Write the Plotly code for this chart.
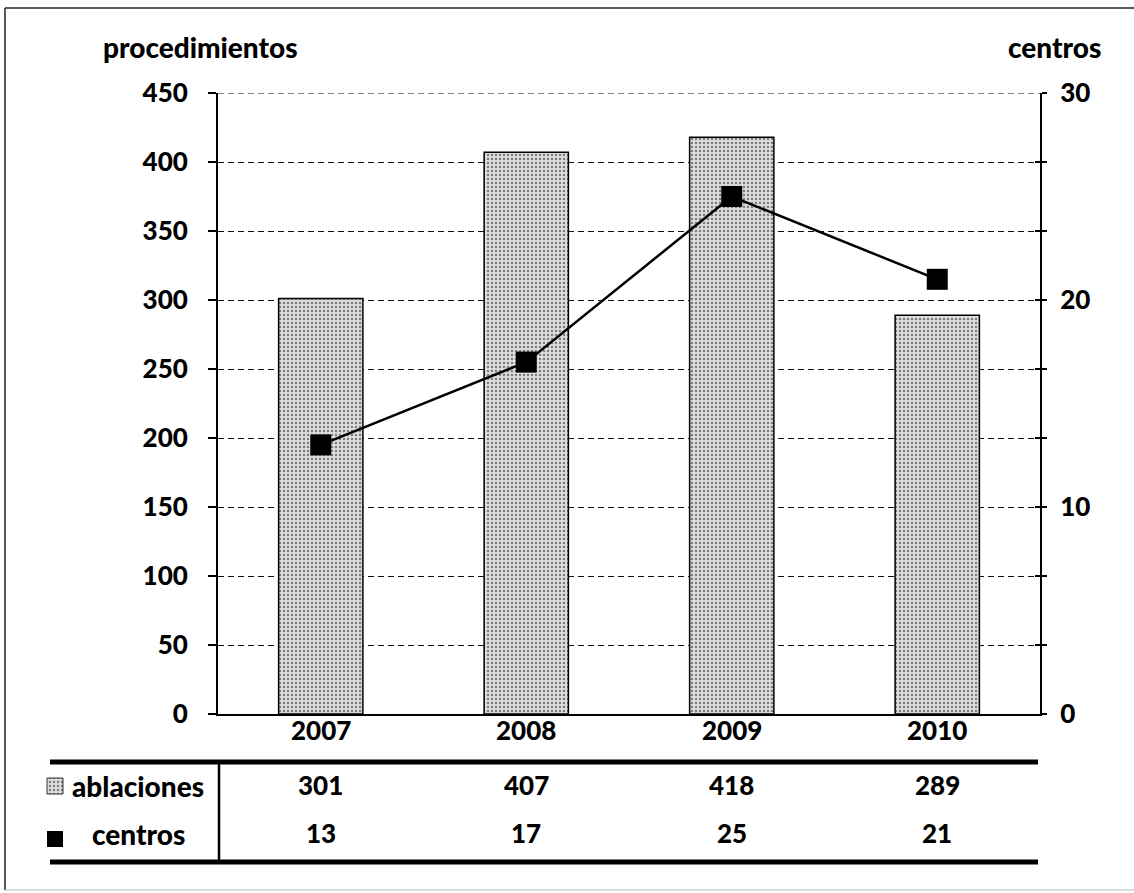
import plotly.graph_objects as go

years = ["2007", "2008", "2009", "2010"]
ablaciones = [301, 407, 418, 289]
centros = [13, 17, 25, 21]
left_ticks = [0, 50, 100, 150, 200, 250, 300, 350, 400, 450]
right_labels = ["0", "", "", "10", "", "", "20", "", "", "30"]

W, H = 1134, 893
FONT = "Lato"
WEIGHT = 900


def px(x):
    return x / W


def py(y):
    return 1 - y / H


pattern = dict(shape=".", fgcolor="#1a1a1a", bgcolor="#dedede", size=4, solidity=0.3)

fig = go.Figure()

fig.add_trace(go.Bar(
    x=years, y=ablaciones, width=0.41,
    marker=dict(color="#dedede", pattern=pattern, line=dict(color="black", width=1.5)),
    showlegend=False, xaxis="x", yaxis="y"))

fig.add_trace(go.Scatter(
    x=years, y=centros, mode="lines+markers",
    line=dict(color="black", width=2.5),
    marker=dict(symbol="square", size=21, color="black"),
    showlegend=False, xaxis="x", yaxis="y2"))

# legend keys in the table (pixel-space overlay axis)
fig.add_trace(go.Bar(
    x=[55], y=[16], base=[778], width=[16],
    marker=dict(color="#dedede", pattern=pattern, line=dict(color="#333", width=1)),
    showlegend=False, xaxis="x2", yaxis="y4"))
fig.add_trace(go.Scatter(
    x=[55], y=[839], mode="markers",
    marker=dict(symbol="square", size=16, color="black"),
    showlegend=False, xaxis="x2", yaxis="y4"))

# invisible trace to ensure yaxis3 is drawn
fig.add_trace(go.Scatter(x=years, y=[None] * 4, yaxis="y3", xaxis="x",
                         showlegend=False, hoverinfo="skip"))

tick_font = dict(family=FONT, size=26, color="black", weight=WEIGHT)

fig.update_layout(
    width=W, height=H,
    margin=dict(l=0, r=0, t=0, b=0, autoexpand=False),
    paper_bgcolor="white", plot_bgcolor="rgba(0,0,0,0)",
    bargap=0.59,
    xaxis=dict(
        domain=[px(218), px(1040)], type="category", range=[-0.5, 3.5],
        showline=True, linecolor="black", linewidth=2, ticks="",
        showticklabels=False, showgrid=False, anchor="y", automargin=False),
    yaxis=dict(
        domain=[py(714), py(93)], range=[0, 450], tickvals=left_ticks,
        showline=True, linecolor="black", linewidth=2,
        ticks="outside", ticklen=8, tickwidth=2, tickcolor="black",
        tickfont=tick_font, ticklabelstandoff=15,
        showgrid=True, gridcolor="#111", gridwidth=1, griddash="6px,4px",
        zeroline=False, anchor="x", automargin=False),
    yaxis2=dict(
        overlaying="y", side="right", anchor="x", range=[0, 30],
        tickvals=[i * 10 / 3 for i in range(10)], ticktext=right_labels,
        showline=True, linecolor="black", linewidth=2,
        ticks="outside", ticklen=5, tickwidth=1.5, tickcolor="black",
        tickfont=tick_font, ticklabelstandoff=8,
        showgrid=False, zeroline=False, automargin=False),
    yaxis3=dict(
        overlaying="y", side="right", anchor="x", range=[0, 450], tickvals=left_ticks,
        ticks="inside", ticklen=5, tickwidth=1.5, tickcolor="black",
        showticklabels=False, showline=False, showgrid=False, zeroline=False,
        automargin=False),
    xaxis2=dict(domain=[0, 1], range=[0, W], visible=False, anchor="y4", automargin=False),
    yaxis4=dict(domain=[0, 1], range=[H, 0], visible=False, anchor="x2", automargin=False),
)

ann_font = dict(family=FONT, size=28, color="black", weight=WEIGHT)
num_font = dict(family=FONT, size=26, color="black", weight=WEIGHT)
annotations = [
    dict(text="procedimientos", x=px(200), y=py(47), xref="paper", yref="paper",
         showarrow=False, font=ann_font, xanchor="center", yanchor="middle"),
    dict(text="centros", x=px(1054), y=py(47), xref="paper", yref="paper",
         showarrow=False, font=ann_font, xanchor="center", yanchor="middle"),
    dict(text="ablaciones", x=px(138), y=py(786), xref="paper", yref="paper",
         showarrow=False, font=ann_font, xanchor="center", yanchor="middle"),
    dict(text="centros", x=px(138), y=py(834), xref="paper", yref="paper",
         showarrow=False, font=ann_font, xanchor="center", yanchor="middle"),
]
for i, (yr, a, c) in enumerate(zip(years, ablaciones, centros)):
    annotations.append(dict(text=yr, x=i, y=py(730), xref="x", yref="paper",
                            showarrow=False, font=num_font, yanchor="middle"))
    annotations.append(dict(text=str(a), x=i, y=py(785), xref="x", yref="paper",
                            showarrow=False, font=num_font, yanchor="middle"))
    annotations.append(dict(text=str(c), x=i, y=py(833), xref="x", yref="paper",
                            showarrow=False, font=num_font, yanchor="middle"))
fig.update_layout(annotations=annotations)

shapes = [
    # top gridline at 450
    dict(type="line", xref="x domain", yref="y", x0=0, x1=1, y0=450, y1=450,
         line=dict(color="#111", width=1, dash="6px,4px")),
    dict(type="line", xref="paper", yref="paper", x0=px(50), x1=px(1038), y0=py(762), y1=py(762),
         line=dict(color="black", width=5)),
    dict(type="line", xref="paper", yref="paper", x0=px(50), x1=px(1038), y0=py(862), y1=py(862),
         line=dict(color="black", width=5)),
    dict(type="line", xref="paper", yref="paper", x0=px(219), x1=px(219), y0=py(762), y1=py(862),
         line=dict(color="black", width=2.5)),
    # outer frame
    dict(type="line", xref="paper", yref="paper", x0=px(5), x1=px(1140), y0=py(8), y1=py(8),
         line=dict(color="#222", width=1.5)),
    dict(type="line", xref="paper", yref="paper", x0=px(5), x1=px(5), y0=py(8), y1=py(890),
         line=dict(color="#222", width=1.5)),
    dict(type="line", xref="paper", yref="paper", x0=px(5), x1=px(1140), y0=py(890), y1=py(890),
         line=dict(color="#bbb", width=1)),
]
fig.update_layout(shapes=shapes)

fig.write_html("out.html")
